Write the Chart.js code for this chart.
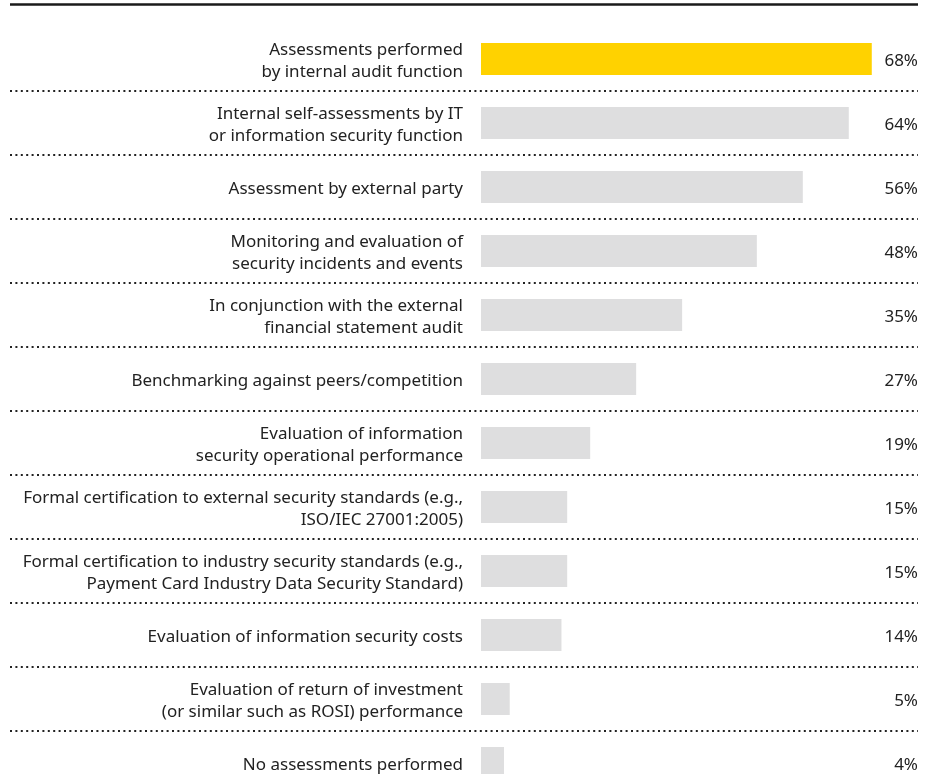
<!DOCTYPE html>
<html>
<head>
<meta charset="utf-8">
<script src="https://cdn.jsdelivr.net/npm/chart.js@4.4.1/dist/chart.umd.min.js"></script>
<style>
  html, body { margin: 0; padding: 0; background: #fff; overflow: hidden; }
  #wrap { width: 934px; height: 810px; }
</style>
</head>
<body>
<div id="wrap"><canvas id="c" width="934" height="810"></canvas></div>
<script>
// Methods used to assess the effectiveness of information security (% of respondents)
const categories = [
  ["Assessments performed", "by internal audit function"],
  ["Internal self-assessments by IT", "or information security function"],
  "Assessment by external party",
  ["Monitoring and evaluation of", "security incidents and events"],
  ["In conjunction with the external", "financial statement audit"],
  "Benchmarking against peers/competition",
  ["Evaluation of information", "security operational performance"],
  ["Formal certification to external security standards (e.g.,", "ISO/IEC 27001:2005)"],
  ["Formal certification to industry security standards (e.g.,", "Payment Card Industry Data Security Standard)"],
  "Evaluation of information security costs",
  ["Evaluation of return of investment", "(or similar such as ROSI) performance"],
  "No assessments performed"
];
const shares = [68, 64, 56, 48, 35, 27, 19, 15, 15, 14, 5, 4];
const valueLabels = ["68%", "64%", "56%", "48%", "35%", "27%", "19%", "15%", "15%", "14%", "5%", "4%"];

const YELLOW = "#FFD200";
const GREY = "#DEDEDF";
const TEXT = "#222222";
const FONT = "'Noto Sans', 'DejaVu Sans', sans-serif";

const barColors = shares.map((v, i) => i === 0 ? YELLOW : GREY);

// Rules, dotted row separators and value labels
const decorations = {
  id: "decorations",
  afterDraw(chart) {
    const ctx = chart.ctx;
    const y = chart.scales.y;
    const left = 10, right = 918;
    ctx.save();
    // heavy rule above the chart
    ctx.strokeStyle = "#1a1a1a";
    ctx.lineWidth = 2.5;
    ctx.beginPath();
    ctx.moveTo(left, 4.5);
    ctx.lineTo(right, 4.5);
    ctx.stroke();
    // dotted separators between rows
    ctx.strokeStyle = "#222";
    ctx.lineWidth = 2;
    ctx.setLineDash([2, 3.4]);
    for (let i = 0; i < categories.length - 1; i++) {
      const sy = Math.round((y.getPixelForValue(i) + y.getPixelForValue(i + 1)) / 2);
      ctx.beginPath();
      ctx.moveTo(left, sy);
      ctx.lineTo(right, sy);
      ctx.stroke();
    }
    ctx.setLineDash([]);
    // value labels at the right edge
    ctx.fillStyle = TEXT;
    ctx.font = "17px " + FONT;
    ctx.textAlign = "right";
    ctx.textBaseline = "middle";
    valueLabels.forEach((t, i) => {
      ctx.fillText(t, right, y.getPixelForValue(i) + 2.5);
    });
    ctx.restore();
  }
};

new Chart(document.getElementById("c"), {
  type: "bar",
  data: {
    labels: categories,
    datasets: [{
      data: shares,
      backgroundColor: barColors,
      borderWidth: 0,
      barPercentage: 0.5,
      categoryPercentage: 1.0
    }]
  },
  options: {
    indexAxis: "y",
    responsive: false,
    animation: false,
    layout: { padding: { top: 27, bottom: 15, left: 0, right: 22 } },
    plugins: { legend: { display: false }, tooltip: { enabled: false } },
    scales: {
      x: { display: false, min: 0, max: 75 },
      y: {
        grid: { display: false, drawTicks: false },
        border: { display: false },
        afterFit(scale) {
          scale.width = 481;
          scale.paddingTop = 0;
          scale.paddingBottom = 0;
        },
        ticks: {
          padding: 18,
          labelOffset: 2,
          color: TEXT,
          font: { family: FONT, size: 17, lineHeight: 1.3 }
        }
      }
    }
  },
  plugins: [decorations]
});
</script>
</body>
</html>
